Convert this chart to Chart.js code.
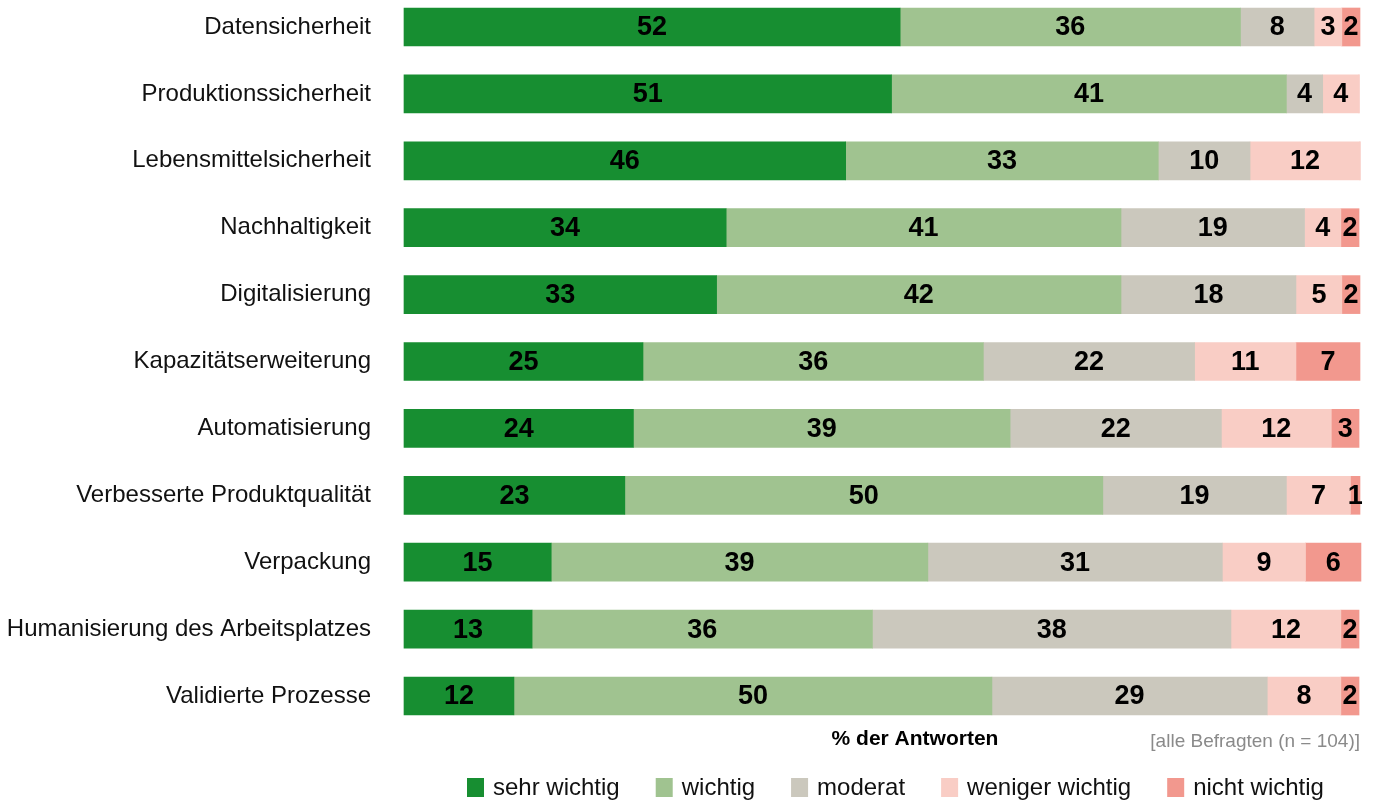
<!DOCTYPE html>
<html lang="de">
<head>
<meta charset="utf-8">
<title>Wichtigkeit der Themen</title>
<script src="https://cdn.jsdelivr.net/npm/chart.js@4/dist/chart.umd.min.js"></script>
<style>
  html, body { margin: 0; padding: 0; background: #fff; }
  #wrap { width: 1376px; height: 802px; position: relative; }
</style>
</head>
<body>
<div id="wrap"><canvas id="chart"></canvas></div>
<script>
// Themen (von oben nach unten)
const categories = [
  'Datensicherheit',
  'Produktionssicherheit',
  'Lebensmittelsicherheit',
  'Nachhaltigkeit',
  'Digitalisierung',
  'Kapazitätserweiterung',
  'Automatisierung',
  'Verbesserte Produktqualität',
  'Verpackung',
  'Humanisierung des Arbeitsplatzes',
  'Validierte Prozesse'
];

// Anteile in % der Antworten
const sehrWichtig    = [51.9, 51.0, 46.2, 33.7, 32.7, 25.0, 24.0, 23.1, 15.4, 13.4, 11.5];
const wichtig        = [35.6, 41.3, 32.7, 41.3, 42.3, 35.6, 39.4, 50.0, 39.4, 35.6, 50.0];
const moderat        = [ 7.7,  3.8,  9.6, 19.2, 18.3, 22.1, 22.1, 19.2, 30.8, 37.5, 28.8];
const wenigerWichtig = [ 2.9,  3.8, 11.5,  3.8,  4.8, 10.6, 11.5,  6.7,  8.7, 11.5,  7.7];
const nichtWichtig   = [ 1.9,  0,    0,    1.9,  1.9,  6.7,  2.9,  1.0,  5.8,  1.9,  1.9];

const seriesNames  = ['sehr wichtig', 'wichtig', 'moderat', 'weniger wichtig', 'nicht wichtig'];
const seriesColors = ['#178e31', '#a0c390', '#cbc8bd', '#f9cdc5', '#f2988e'];

const axisTitle  = '% der Antworten';
const sampleNote = '[alle Befragten (n = 104)]';

const FONT = "'Liberation Sans', Arial, Helvetica, sans-serif";

// Zahl mittig in jedes Segment schreiben
const segmentLabels = {
  id: 'segmentLabels',
  afterDatasetsDraw(chart) {
    const ctx = chart.ctx;
    ctx.save();
    ctx.font = `bold 27px ${FONT}`;
    ctx.fillStyle = '#000';
    ctx.textAlign = 'center';
    ctx.textBaseline = 'middle';
    chart.data.datasets.forEach((ds, i) => {
      chart.getDatasetMeta(i).data.forEach((bar, j) => {
        const v = ds.data[j];
        if (!v) return;
        const p = bar.getCenterPoint();
        ctx.fillText(String(Math.round(v)), p.x, p.y + 1);
      });
    });
    ctx.restore();
  }
};

// Achsentitel, Fussnote und Legende unter dem Diagramm
const footer = {
  id: 'footer',
  afterDraw(chart) {
    const ctx = chart.ctx;
    const area = chart.chartArea;
    ctx.save();
    ctx.textBaseline = 'middle';

    ctx.font = `bold 21px ${FONT}`;
    ctx.fillStyle = '#000';
    ctx.textAlign = 'center';
    ctx.fillText(axisTitle, 915, area.bottom + 43);

    ctx.font = `19px ${FONT}`;
    ctx.fillStyle = '#8a8a8a';
    ctx.textAlign = 'right';
    ctx.fillText(sampleNote, area.right, area.bottom + 46);

    ctx.font = `24px ${FONT}`;
    ctx.textAlign = 'left';
    let x = 467;
    const y = area.bottom + 91;
    chart.data.datasets.forEach(ds => {
      ctx.fillStyle = ds.backgroundColor;
      ctx.fillRect(x, y - 9, 17, 19);
      ctx.fillStyle = '#111';
      ctx.fillText(ds.label, x + 26, y + 1);
      x += 26 + ctx.measureText(ds.label).width + 36;
    });
    ctx.restore();
  }
};

const seriesValues = [sehrWichtig, wichtig, moderat, wenigerWichtig, nichtWichtig];

new Chart(document.getElementById('chart'), {
  type: 'bar',
  data: {
    labels: categories,
    datasets: seriesNames.map((name, i) => ({
      label: name,
      data: seriesValues[i],
      backgroundColor: seriesColors[i],
      borderWidth: 0,
      barThickness: 38,
      clip: false
    }))
  },
  options: {
    indexAxis: 'y',
    responsive: true,
    maintainAspectRatio: false,
    animation: false,
    layout: {
      padding: { left: 0, right: 16, top: 27, bottom: 106 }
    },
    plugins: {
      legend: { display: false },
      tooltip: { enabled: false }
    },
    scales: {
      x: {
        stacked: true,
        min: 0,
        max: 100,
        display: false
      },
      y: {
        stacked: true,
        offset: false,
        grid: { display: false, drawTicks: false },
        border: { display: false },
        ticks: {
          padding: 33,
          color: '#111',
          font: { family: FONT, size: 24 }
        },
        afterFit(scale) {
          // feste Breite der Beschriftungsspalte, kein Zusatzabstand oben/unten
          scale.width = 404;
          scale.paddingTop = 0;
          scale.paddingBottom = 0;
        }
      }
    }
  },
  plugins: [segmentLabels, footer]
});
</script>
</body>
</html>
